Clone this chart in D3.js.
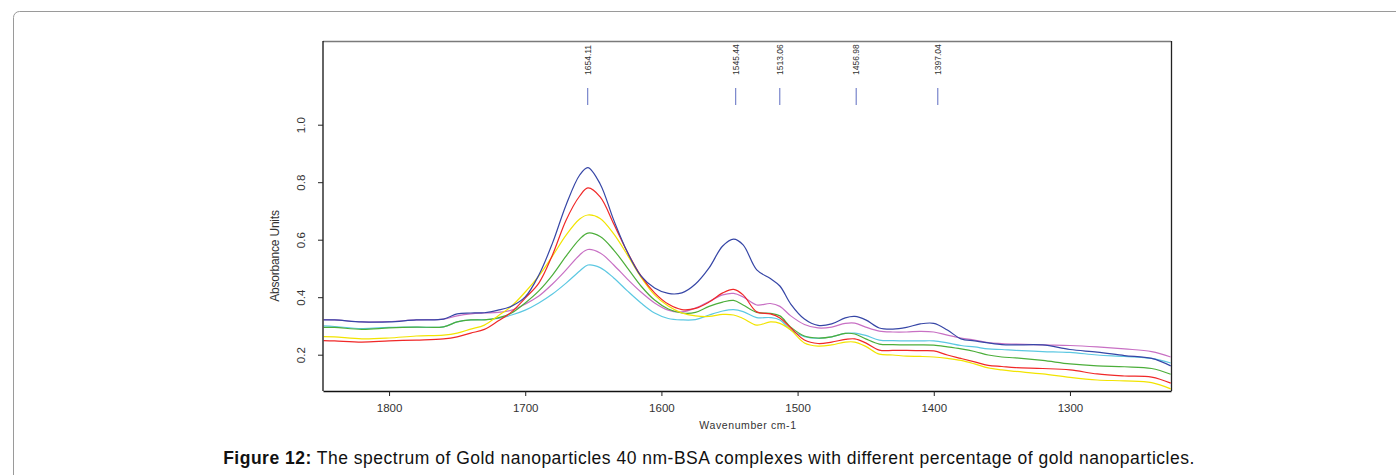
<!DOCTYPE html>
<html>
<head>
<meta charset="utf-8">
<script src="https://cdn.jsdelivr.net/npm/d3@7"></script>
<style>
  html, body { margin: 0; padding: 0; background: #fff; }
  svg { display: block; font-family: "Liberation Sans", Arial, sans-serif; }
</style>
</head>
<body>
<svg id="chart" width="1396" height="475"></svg>
<script>
// ---- data ----
const wavenumbers = [1848,1840,1820,1800,1780,1760,1750,1740,1730,1720,1710,1700,1690,1680,1670,1660,1654,1645,1635,1625,1615,1605,1595,1585,1575,1565,1555,1547,1540,1530,1520,1513,1505,1495,1485,1475,1465,1458,1450,1440,1430,1420,1410,1400,1390,1380,1370,1360,1350,1340,1320,1300,1280,1260,1240,1226];

const blueSeries = [0.321,0.321,0.314,0.314,0.321,0.324,0.342,0.345,0.346,0.355,0.369,0.401,0.477,0.588,0.721,0.825,0.851,0.794,0.668,0.557,0.474,0.432,0.413,0.415,0.446,0.502,0.578,0.602,0.582,0.495,0.465,0.439,0.376,0.324,0.302,0.307,0.328,0.333,0.321,0.293,0.289,0.295,0.307,0.309,0.286,0.255,0.248,0.241,0.235,0.234,0.234,0.218,0.209,0.197,0.187,0.161];
const redSeries = [0.249,0.248,0.244,0.248,0.251,0.255,0.262,0.275,0.288,0.317,0.349,0.397,0.449,0.547,0.668,0.752,0.780,0.749,0.655,0.557,0.474,0.415,0.376,0.357,0.361,0.383,0.415,0.427,0.408,0.349,0.342,0.328,0.293,0.251,0.239,0.244,0.253,0.255,0.241,0.216,0.215,0.215,0.214,0.213,0.199,0.187,0.175,0.163,0.159,0.155,0.152,0.147,0.133,0.126,0.122,0.101];
const yellowSeries = [0.263,0.262,0.255,0.258,0.265,0.268,0.275,0.289,0.303,0.335,0.369,0.418,0.474,0.543,0.616,0.672,0.686,0.674,0.620,0.547,0.470,0.408,0.369,0.345,0.335,0.333,0.340,0.338,0.326,0.303,0.314,0.309,0.286,0.241,0.230,0.234,0.244,0.244,0.229,0.202,0.199,0.195,0.194,0.192,0.187,0.180,0.168,0.154,0.147,0.142,0.133,0.121,0.112,0.109,0.103,0.081];
const greenSeries = [0.295,0.295,0.288,0.293,0.296,0.297,0.314,0.321,0.321,0.328,0.345,0.380,0.422,0.477,0.543,0.602,0.623,0.611,0.564,0.502,0.439,0.390,0.359,0.345,0.347,0.368,0.383,0.389,0.373,0.347,0.344,0.335,0.296,0.265,0.258,0.262,0.274,0.272,0.255,0.237,0.235,0.234,0.234,0.233,0.227,0.220,0.211,0.199,0.192,0.189,0.180,0.168,0.161,0.158,0.152,0.132];
const pinkSeries = [0.322,0.321,0.314,0.315,0.321,0.324,0.335,0.342,0.345,0.347,0.355,0.376,0.404,0.446,0.495,0.547,0.566,0.554,0.512,0.463,0.418,0.380,0.355,0.349,0.362,0.385,0.408,0.413,0.401,0.373,0.378,0.368,0.335,0.305,0.293,0.296,0.309,0.310,0.296,0.282,0.279,0.279,0.281,0.279,0.268,0.258,0.251,0.242,0.239,0.237,0.234,0.232,0.227,0.220,0.211,0.192];
const cyanSeries = [0.300,0.298,0.291,0.295,0.296,0.297,0.314,0.321,0.322,0.326,0.338,0.355,0.380,0.411,0.449,0.491,0.512,0.503,0.467,0.422,0.380,0.345,0.326,0.321,0.322,0.338,0.352,0.357,0.350,0.329,0.329,0.321,0.286,0.263,0.257,0.262,0.274,0.275,0.267,0.251,0.249,0.248,0.248,0.248,0.241,0.232,0.227,0.220,0.218,0.215,0.211,0.208,0.199,0.194,0.187,0.171];

const seriesNames = ["cyan","pink","green","yellow","red","blue"];
const seriesColors = ["#5cc8e2","#c870c4","#4cae3a","#f2e400","#f02828","#3646a6"];
const seriesValues = [cyanSeries, pinkSeries, greenSeries, yellowSeries, redSeries, blueSeries];

const xTicks = [1800,1700,1600,1500,1400,1300];
const yTicks = [0.2,0.4,0.6,0.8,1.0];
const peakPositions = [1654.11,1545.44,1513.06,1456.98,1397.04];
const peakLabels = ["1654.11","1545.44","1513.06","1456.98","1397.04"];

const xTitle = "Wavenumber cm-1";
const yTitle = "Absorbance Units";
const captionBold = "Figure 12:";
const captionText = " The spectrum of Gold nanoparticles 40 nm-BSA complexes with different percentage of gold nanoparticles.";

// ---- layout ----
const svg = d3.select("#chart");
const plot = {left: 323, right: 1171, top: 41, bottom: 391};

const x = d3.scaleLinear().domain([1848.5, 1225.8]).range([plot.left, plot.right]);
const y = d3.scaleLinear().domain([0.2, 1.0]).range([354.7, 124.7]);

// outer rounded frame
svg.append("rect")
  .attr("x", 13.5).attr("y", 11.5)
  .attr("width", 1420).attr("height", 520)
  .attr("rx", 6).attr("ry", 6)
  .attr("fill", "none").attr("stroke", "#9a9a9a").attr("stroke-width", 1);

// plot frame: top grey, right dark
svg.append("line").attr("x1", plot.left).attr("x2", plot.right)
  .attr("y1", plot.top + 0.5).attr("y2", plot.top + 0.5)
  .attr("stroke", "#7a7a7a").attr("stroke-width", 1.3);
svg.append("line").attr("x1", plot.right + 0.5).attr("x2", plot.right + 0.5)
  .attr("y1", plot.top).attr("y2", plot.bottom)
  .attr("stroke", "#222").attr("stroke-width", 1.3);

// clip
svg.append("clipPath").attr("id", "clip")
  .append("rect").attr("x", plot.left).attr("y", plot.top)
  .attr("width", plot.right - plot.left).attr("height", plot.bottom - plot.top);

// curves
const line = d3.line()
  .x((d, i) => x(wavenumbers[i]))
  .y(d => y(d))
  .curve(d3.curveCatmullRom.alpha(0.5));

const g = svg.append("g").attr("clip-path", "url(#clip)");
seriesValues.forEach((vals, k) => {
  g.append("path")
    .datum(vals)
    .attr("fill", "none")
    .attr("stroke", seriesColors[k])
    .attr("stroke-width", 1.2)
    .attr("d", line);
});

// x axis
const xAxis = d3.axisBottom(x).tickValues(xTicks).tickSize(5).tickSizeOuter(0).tickPadding(8).tickFormat(d3.format("d"));
const gx = svg.append("g").attr("transform", `translate(0,${plot.bottom})`).call(xAxis);
gx.select(".domain").attr("stroke", "#111").attr("stroke-width", 1.3);
gx.selectAll(".tick line").attr("stroke", "#222");
gx.selectAll(".tick text").attr("font-size", "11.5px").attr("fill", "#333")
  .attr("font-family", "Liberation Sans, Arial, sans-serif");

// y axis
const yAxis = d3.axisLeft(y).tickValues(yTicks).tickSize(5).tickSizeOuter(0).tickFormat(d3.format(".1f"));
const gy = svg.append("g").attr("transform", `translate(${plot.left},0)`).call(yAxis);
gy.select(".domain").attr("d", `M0,${plot.bottom}V${plot.top}`).attr("stroke", "#111").attr("stroke-width", 1.3);
gy.selectAll(".tick line").attr("stroke", "#222");
gy.selectAll(".tick text")
  .attr("font-size", "11.5px").attr("fill", "#333")
  .attr("font-family", "Liberation Sans, Arial, sans-serif")
  .attr("text-anchor", "middle")
  .attr("dy", null).attr("x", null)
  .attr("transform", "translate(-22,0) rotate(-90)")
  .attr("dominant-baseline", "central");

// axis titles
svg.append("text")
  .attr("x", 748).attr("y", 429)
  .attr("text-anchor", "middle")
  .attr("font-size", "10.5px").attr("fill", "#333")
  .attr("letter-spacing", "0.6px")
  .text(xTitle);

svg.append("text")
  .attr("transform", `translate(279,256) rotate(-90)`)
  .attr("text-anchor", "middle")
  .attr("font-size", "12px").attr("fill", "#333")
  .attr("letter-spacing", "-0.2px")
  .text(yTitle);

// peak markers
const pk = svg.append("g");
peakPositions.forEach((p, i) => {
  pk.append("line")
    .attr("x1", x(p)).attr("x2", x(p))
    .attr("y1", 88).attr("y2", 105)
    .attr("stroke", "#5d6cc0").attr("stroke-width", 1);
  pk.append("text")
    .attr("transform", `translate(${x(p) + 3},75) rotate(-90)`)
    .attr("text-anchor", "start")
    .attr("font-size", "8.5px").attr("fill", "#333")
    .text(peakLabels[i]);
});

// caption
const cap = svg.append("text")
  .attr("x", 709).attr("y", 464)
  .attr("text-anchor", "middle")
  .attr("font-size", "17.5px").attr("fill", "#111")
  .attr("letter-spacing", "0.5px");
cap.append("tspan").attr("font-weight", "bold").text(captionBold);
cap.append("tspan").text(captionText);
</script>
</body>
</html>
